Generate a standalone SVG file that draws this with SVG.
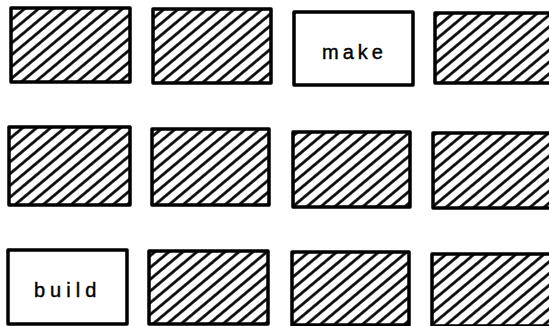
<svg xmlns="http://www.w3.org/2000/svg" width="549" height="326" viewBox="0 0 549 326">
<style>
.box{stroke:#000;stroke-width:3.5;stroke-linejoin:round}
.hatch{fill:url(#hatch)}
.plain{fill:#fff}
.lbl{font-family:"Liberation Sans",Arial,sans-serif;font-size:20px;fill:#000;stroke:#000;stroke-width:0.4}
</style>
<defs>
<pattern id="hatch" patternUnits="userSpaceOnUse" width="9" height="9" patternTransform="rotate(-40)">
<rect width="9" height="9" fill="#fff"/>
<line x1="-1" y1="4.5" x2="10" y2="4.5" stroke="#000" stroke-width="2.7"/>
</pattern>
</defs>
<rect width="549" height="326" fill="#fff"/>
<g id="r1c1"><rect class="box hatch" x="11" y="8" width="119" height="74"/></g>
<g id="r1c2"><rect class="box hatch" x="153" y="9" width="118" height="74"/></g>
<g id="r1c3"><rect class="box plain" x="294" y="12" width="119" height="73"/><text class="lbl" x="322" y="59" letter-spacing="4">make</text></g>
<g id="r1c4"><rect class="box hatch" x="435" y="13" width="125" height="70"/></g>
<g id="r2c1"><rect class="box hatch" x="9" y="127" width="121" height="78"/></g>
<g id="r2c2"><rect class="box hatch" x="152" y="129" width="117" height="76"/></g>
<g id="r2c3"><rect class="box hatch" x="293" y="132" width="117" height="75"/></g>
<g id="r2c4"><rect class="box hatch" x="433" y="133" width="125" height="75"/></g>
<g id="r3c1"><rect class="box plain" x="8" y="250" width="119" height="74"/><text class="lbl" x="34" y="297" letter-spacing="5">build</text></g>
<g id="r3c2"><rect class="box hatch" x="149" y="251" width="119" height="73"/></g>
<g id="r3c3"><rect class="box hatch" x="292" y="252" width="117" height="73"/></g>
<g id="r3c4"><rect class="box hatch" x="432" y="254" width="125" height="72"/></g>
<g id="connectors"></g>
</svg>
